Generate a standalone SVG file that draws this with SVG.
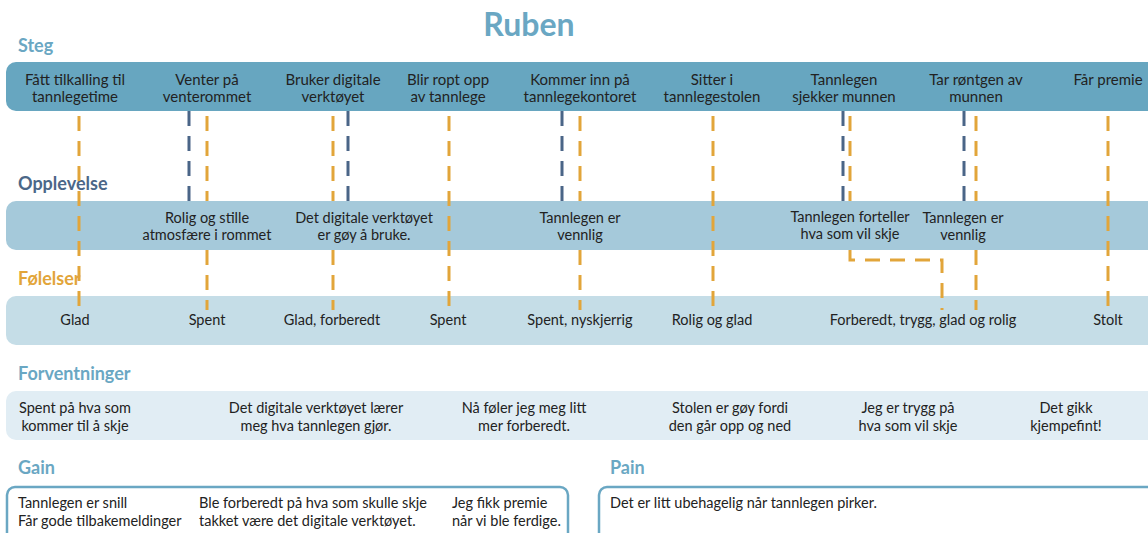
<svg xmlns="http://www.w3.org/2000/svg" width="1148" height="533" viewBox="0 0 1148 533">
<style>
text{font-family:Lato,"Open Sans","Liberation Sans",sans-serif;}
.s{font-size:15px;fill:#222;text-anchor:middle;}
.t{font-size:14.5px;fill:#222;text-anchor:middle;}
.f{font-size:14.5px;fill:#222;text-anchor:middle;}
.l{font-size:14.5px;fill:#222;}
.h{font-size:18px;font-weight:bold;}
.hb{fill:#6aa7c3;}
.steg{fill:#67a6c0;}
.opp{fill:#a5c9da;}
.fol{fill:#c5dde7;}
.forv{fill:#e1edf4;}
.box{fill:#fff;stroke:#6aa7c3;stroke-width:2.5;}
.o{stroke:#e2a53a;stroke-width:3;fill:none;stroke-dasharray:15 10;}
.b{stroke:#4a6587;stroke-width:3;fill:none;stroke-dasharray:15 10;}
</style>
<rect width="1148" height="533" fill="#fff"/>
<text x="529" y="36" style="font-size:32px;font-weight:bold;text-anchor:middle" class="hb">Ruben</text>
<text x="18" y="52" class="h hb">Steg</text>
<text x="18" y="190" class="h" fill="#4b6788">Opplevelse</text>
<text x="18" y="285" class="h" fill="#e2a53a">Følelser</text>
<text x="18" y="380" class="h hb">Forventninger</text>
<text x="18" y="474" class="h hb">Gain</text>
<text x="610" y="474" class="h hb">Pain</text>

<rect x="6" y="62" width="1170" height="49" rx="10" class="steg"/>
<rect x="6" y="296" width="1170" height="49" rx="10" class="fol"/>
<rect x="6" y="391" width="1170" height="49" rx="10" class="forv"/>

<g id="connectors">
<line x1="79" y1="116" x2="79" y2="306" class="o"/>
<line x1="449" y1="116" x2="449" y2="306" class="o"/>
<line x1="713" y1="116" x2="713" y2="306" class="o"/>
<line x1="1108" y1="116" x2="1108" y2="306" class="o"/>
<line x1="189" y1="111" x2="189" y2="201" class="b"/>
<line x1="348" y1="111" x2="348" y2="201" class="b"/>
<line x1="562" y1="111" x2="562" y2="201" class="b"/>
<line x1="843" y1="111" x2="843" y2="201" class="b"/>
<line x1="964" y1="111" x2="964" y2="201" class="b"/>
<line x1="207" y1="116" x2="207" y2="201" class="o"/>
<line x1="333" y1="116" x2="333" y2="201" class="o"/>
<line x1="580" y1="116" x2="580" y2="201" class="o"/>
<line x1="850" y1="116" x2="850" y2="201" class="o"/>
<line x1="976" y1="116" x2="976" y2="201" class="o"/>
<line x1="207" y1="250" x2="207" y2="310" class="o"/>
<line x1="333" y1="250" x2="333" y2="310" class="o"/>
<line x1="580" y1="250" x2="580" y2="310" class="o"/>
<path d="M850 250 V260 H942 V310" class="o"/>
<line x1="976" y1="250" x2="976" y2="310" class="o"/>
</g>

<rect x="6" y="201" width="1170" height="49" rx="10" class="opp"/>
<g id="connectors-through">
<line x1="79" y1="201" x2="79" y2="250" class="o" style="stroke-dashoffset:10"/>
<line x1="449" y1="201" x2="449" y2="250" class="o" style="stroke-dashoffset:10"/>
<line x1="713" y1="201" x2="713" y2="250" class="o" style="stroke-dashoffset:10"/>
<line x1="1108" y1="201" x2="1108" y2="250" class="o" style="stroke-dashoffset:10"/>
</g>

<g id="steg1"><text class="s" x="75" y="85">Fått tilkalling til</text><text class="s" x="75" y="102">tannlegetime</text></g>
<g id="steg2"><text class="s" x="207" y="85">Venter på</text><text class="s" x="207" y="102">venterommet</text></g>
<g id="steg3"><text class="s" x="333" y="85">Bruker digitale</text><text class="s" x="333" y="102">verktøyet</text></g>
<g id="steg4"><text class="s" x="448" y="85">Blir ropt opp</text><text class="s" x="448" y="102">av tannlege</text></g>
<g id="steg5"><text class="s" x="580" y="85">Kommer inn på</text><text class="s" x="580" y="102">tannlegekontoret</text></g>
<g id="steg6"><text class="s" x="712" y="85">Sitter i</text><text class="s" x="712" y="102">tannlegestolen</text></g>
<g id="steg7"><text class="s" x="844" y="85">Tannlegen</text><text class="s" x="844" y="102">sjekker munnen</text></g>
<g id="steg8"><text class="s" x="976" y="85">Tar røntgen av</text><text class="s" x="976" y="102">munnen</text></g>
<g id="steg9"><text class="s" x="1108" y="85">Får premie</text></g>

<g id="opp2"><text class="t" x="207" y="223">Rolig og stille</text><text class="t" x="207" y="240">atmosfære i rommet</text></g>
<g id="opp3"><text class="t" x="364" y="223">Det digitale verktøyet</text><text class="t" x="364" y="240">er gøy å bruke.</text></g>
<g id="opp5"><text class="t" x="580" y="223">Tannlegen er</text><text class="t" x="580" y="240">vennlig</text></g>
<g id="opp7"><text class="t" x="850" y="222">Tannlegen forteller</text><text class="t" x="850" y="239">hva som vil skje</text></g>
<g id="opp8"><text class="t" x="963" y="223">Tannlegen er</text><text class="t" x="963" y="240">vennlig</text></g>

<g id="fol1"><text class="t" x="75" y="325">Glad</text></g>
<g id="fol2"><text class="t" x="207" y="325">Spent</text></g>
<g id="fol3"><text class="t" x="332" y="325">Glad, forberedt</text></g>
<g id="fol4"><text class="t" x="448" y="325">Spent</text></g>
<g id="fol5"><text class="t" x="580" y="325">Spent, nyskjerrig</text></g>
<g id="fol6"><text class="t" x="712" y="325">Rolig og glad</text></g>
<g id="fol7"><text class="t" x="923" y="325">Forberedt, trygg, glad og rolig</text></g>
<g id="fol9"><text class="t" x="1108" y="325">Stolt</text></g>

<g id="forv1"><text class="f" x="75" y="413">Spent på hva som</text><text class="f" x="75" y="431">kommer til å skje</text></g>
<g id="forv2"><text class="f" x="316" y="413">Det digitale verktøyet lærer</text><text class="f" x="316" y="431">meg hva tannlegen gjør.</text></g>
<g id="forv3"><text class="f" x="524" y="413">Nå føler jeg meg litt</text><text class="f" x="524" y="431">mer forberedt.</text></g>
<g id="forv4"><text class="f" x="730" y="413">Stolen er gøy fordi</text><text class="f" x="730" y="431">den går opp og ned</text></g>
<g id="forv5"><text class="f" x="908" y="413">Jeg er trygg på</text><text class="f" x="908" y="431">hva som vil skje</text></g>
<g id="forv6"><text class="f" x="1066" y="413">Det gikk</text><text class="f" x="1066" y="431">kjempefint!</text></g>

<g id="gain">
<rect x="7" y="487" width="561" height="70" rx="8" class="box"/>
<text class="l" x="18" y="508">Tannlegen er snill</text><text class="l" x="18" y="526">Får gode tilbakemeldinger</text>
<text class="l" x="199" y="508">Ble forberedt på hva som skulle skje</text><text class="l" x="199" y="526">takket være det digitale verktøyet.</text>
<text class="l" x="452" y="508">Jeg fikk premie</text><text class="l" x="452" y="526">når vi ble ferdige.</text>
</g>
<g id="pain">
<rect x="599" y="487" width="580" height="70" rx="8" class="box"/>
<text class="l" x="610" y="508">Det er litt ubehagelig når tannlegen pirker.</text>
</g>
</svg>
